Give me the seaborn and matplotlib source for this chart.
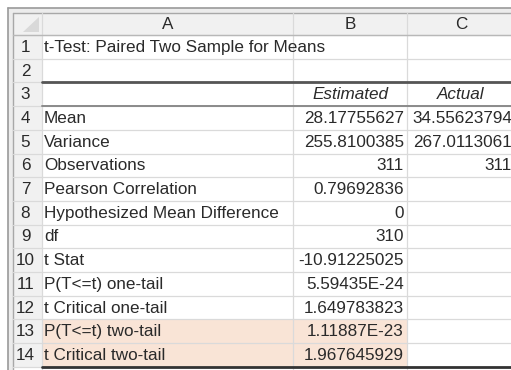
import matplotlib.pyplot as plt
import seaborn as sns
from matplotlib.patches import Rectangle, Polygon

# table contents
col_letters = ["A", "B", "C"]
row_numbers = [str(i) for i in range(1, 15)]
title = "t-Test: Paired Two Sample for Means"
series_names = ["Estimated", "Actual"]
stat_labels = ["Mean", "Variance", "Observations", "Pearson Correlation",
               "Hypothesized Mean Difference", "df", "t Stat",
               "P(T<=t) one-tail", "t Critical one-tail",
               "P(T<=t) two-tail", "t Critical two-tail"]
estimated = ["28.17755627", "255.8100385", "311", "0.79692836", "0",
             "310", "-10.91225025", "5.59435E-24", "1.649783823",
             "1.11887E-23", "1.967645929"]
actual = ["34.55623794", "267.0113061", "311", "", "", "", "", "", "",
          "", ""]
highlight_rows = [13, 14]

sns.set_theme(style="white")
plt.rcParams['font.family'] = ['Liberation Sans', 'DejaVu Sans']

# sheet geometry (pixels)
col_edges = [13, 42, 293, 407, 515]
top, head_h, row_h = 12.5, 22.5, 23.7
row_edges = [top, top + head_h] + [top + head_h + row_h * i for i in range(1, 15)]
fs = 12.3
txt = "#2a2a2a"

fig = plt.figure(figsize=(5.11, 3.70), dpi=100)
ax = fig.add_axes([0, 0, 1, 1])
ax.set_xlim(0, 511)
ax.set_ylim(370, 0)
ax.axis("off")

# outer frame
ax.add_patch(Rectangle((8, 8), 520, 4.5, fc="#ececec", ec="none"))
ax.add_patch(Rectangle((8, 8), 4.5, 370, fc="#ececec", ec="none"))
ax.plot([8, 520], [8, 8], color="#9a9a9a", lw=1.2)
ax.plot([8, 8], [8, 370], color="#9a9a9a", lw=1.2)
ax.plot([12.5, 520], [12.5, 12.5], color="#a8a8a8", lw=1)
ax.plot([12.5, 12.5], [12.5, 370], color="#a8a8a8", lw=1)

# header band and row-number column
ax.add_patch(Rectangle((col_edges[0], row_edges[0]), 520, head_h, fc="#f1f1f1", ec="none"))
ax.add_patch(Rectangle((col_edges[0], row_edges[1]), col_edges[1] - col_edges[0],
                       row_edges[-1] - row_edges[1], fc="#f1f1f1", ec="none"))
ax.add_patch(Polygon([(39, 17), (39, 32), (23, 32)], fc="#d9d9d9", ec="none"))

# highlighted cells
for r in highlight_rows:
    ax.add_patch(Rectangle((col_edges[1], row_edges[r]), col_edges[3] - col_edges[1],
                           row_h, fc="#f9e4d6", ec="none"))

# grid lines
for y in row_edges[1:]:
    ax.plot([col_edges[0], 520], [y, y], color="#dadada", lw=0.9)
for x in col_edges[1:]:
    ax.plot([x, x], [row_edges[0], 370], color="#dadada", lw=0.9)
ax.plot([col_edges[0], 520], [row_edges[1], row_edges[1]], color="#b8b8b8", lw=1)
ax.plot([col_edges[1], 520], [row_edges[3], row_edges[3]], color="#555555", lw=2)
ax.plot([col_edges[1], 520], [row_edges[4], row_edges[4]], color="#8a8a8a", lw=1.4)
ax.plot([col_edges[1], 520], [row_edges[-1], row_edges[-1]], color="#333333", lw=2)

# column letters
for i, letter in enumerate(col_letters):
    xc = (col_edges[i + 1] + col_edges[i + 2]) / 2
    ax.text(xc, (row_edges[0] + row_edges[1]) / 2 + 1, letter, ha="center",
            va="center", fontsize=fs, color=txt)

# row numbers
for i, num in enumerate(row_numbers):
    yc = (row_edges[i + 1] + row_edges[i + 2]) / 2 + 0.5
    ax.text(25.5, yc, num, ha="center", va="center", fontsize=fs, color=txt)

def yc(r):
    return (row_edges[r] + row_edges[r + 1]) / 2 + 0.5

ax.text(col_edges[1] + 2, yc(1), title, ha="left", va="center", fontsize=fs, color=txt)
for j, name in enumerate(series_names):
    xc = (col_edges[j + 2] + col_edges[j + 3]) / 2
    ax.text(xc, yc(3), name, ha="center", va="center", fontsize=fs,
            style="italic", color=txt)

for k, lab in enumerate(stat_labels):
    r = k + 4
    ax.text(col_edges[1] + 2, yc(r), lab, ha="left", va="center", fontsize=fs, color=txt)
    ax.text(col_edges[3] - 3, yc(r), estimated[k], ha="right", va="center",
            fontsize=fs, color=txt)
    if actual[k]:
        ax.text(col_edges[4] - 3, yc(r), actual[k], ha="right", va="center",
                fontsize=fs, color=txt)

fig.savefig("out.png", dpi=100, facecolor="white")
